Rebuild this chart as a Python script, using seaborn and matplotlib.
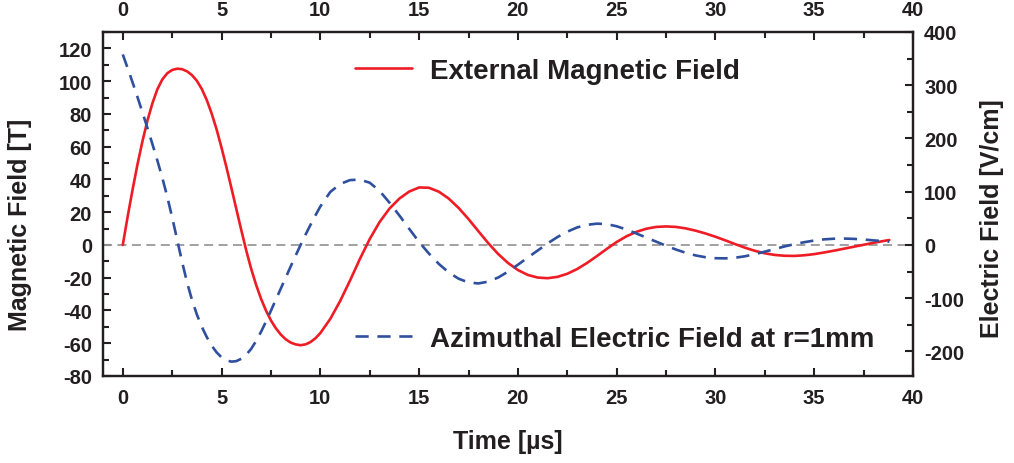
import numpy as np
import pandas as pd
import matplotlib
matplotlib.use("Agg")
import matplotlib.pyplot as plt
from matplotlib.ticker import MultipleLocator
import seaborn as sns

# ---- data ----
time_us = [0, 0.25, 0.5, 0.75, 1, 1.25, 1.5, 1.75, 2, 2.25, 2.5, 2.75, 3, 3.25, 3.5, 3.75,
           4, 4.25, 4.5, 4.75, 5, 5.25, 5.5, 5.75, 6, 6.25, 6.5, 6.75, 7, 7.25, 7.5, 7.75,
           8, 8.25, 8.5, 8.75, 9, 9.25, 9.5, 9.75, 10,
           10.5, 11, 11.5, 12, 12.5, 13, 13.5, 14, 14.5, 15, 15.5, 16, 16.5, 17, 17.5, 18,
           18.5, 19, 19.5, 20, 20.5, 21, 21.5, 22, 22.5, 23, 23.5, 24, 24.5, 25, 25.5, 26,
           26.5, 27, 27.5, 28, 28.5, 29, 29.5, 30, 30.5, 31, 31.5, 32, 32.5, 33, 33.5, 34,
           34.5, 35, 35.5, 36, 36.5, 37, 37.5, 38, 38.5, 38.8]

magnetic_T = [0, 17.5, 34, 49.5, 63.5, 76, 86.5, 95, 101, 104.8, 106.8, 107.6, 107.3, 106.0,
              103.7, 100.2, 95.2, 88.5, 80.2, 70.5, 59.3, 47.3, 34.7, 21.8, 9.0, -3.4, -14.6,
              -24.4, -32.9, -40.1, -46.1, -50.9, -54.7, -57.6, -59.6, -60.7, -61.2, -60.7,
              -59.3, -57.0, -53.8,
              -45.2, -34.3, -21.8, -8.6, 3.6, 14.0, 22.2, 28.3, 32.6, 35.1,
              34.9, 32.5, 28.3, 22.6, 15.8, 8.4, 1.1, -5.5, -11.0, -15.3,
              -18.3, -19.9, -20.3, -19.5, -17.6, -14.7, -11.0, -6.8, -2.4, 1.8,
              5.3, 8.0, 9.9, 11.0, 11.3, 11.0, 10.1, 8.7, 7.0, 5.0,
              2.8, 0.5, -1.7, -3.6, -5.1, -6.1, -6.6, -6.7, -6.3, -5.6,
              -4.6, -3.5, -2.3, -1.1, 0.1, 1.3, 2.4, 3.0]

electric_Vcm = [357.8, 331.7, 304.8, 277.1, 248.6, 219.4, 189.4, 158.6, 126.3, 90.9, 51.7,
                10.2, -31.4, -69.8, -102.9, -130.6, -153.7, -172.9, -189.1, -201.8, -211.1,
                -216.9, -219.2, -218.2, -213.8, -206.2, -195.1, -180.3, -163.1, -143.8, -123.4,
                -102.6, -81.8, -61.1, -40.3, -20.0, 0, 19.2, 37.7, 55.4, 72.3,
                99.4, 114.5, 121.8, 122.8, 116.9, 101.5, 79.4, 55.4, 30.2, 5.5,
                -16.3, -35.7, -51.7, -63.4, -70.5, -72.3, -68.9, -61.2, -50.2, -37.2,
                -23.7, -10.5, 2.8, 14.8, 24.9, 32.9, 37.8, 40.0, 39.1, 35.1,
                28.9, 21.5, 13.8, 6.2, -1.5, -8.6, -14.8, -19.7, -23.1, -24.9,
                -25.2, -24.0, -21.2, -17.2, -12.6, -7.7, -2.8, 1.5, 5.2, 8.3,
                10.5, 11.7, 12.0, 11.4, 10.2, 8.6, 7.1, 6.2]

x_ticks = [0, 5, 10, 15, 20, 25, 30, 35, 40]
left_ticks = [-80, -60, -40, -20, 0, 20, 40, 60, 80, 100, 120]
right_ticks = [-200, -100, 0, 100, 200, 300, 400]

df = pd.DataFrame({"t": time_us, "B": magnetic_T, "E": electric_Vcm})

# ---- style ----
sns.set_style("ticks")
plt.rcParams["font.family"] = ["Liberation Sans", "DejaVu Sans"]
plt.rcParams["font.weight"] = "bold"
plt.rcParams["axes.labelweight"] = "bold"
plt.rcParams["axes.unicode_minus"] = False

RED = "#ee1c25"
BLUE = "#2f4f9f"
INK = "#231f20"

fig = plt.figure(figsize=(10.14, 4.64), dpi=100)
ax = fig.add_axes([0.1016, 0.1875, 0.7988, 0.7414])
ax2 = ax.twinx()

ax.axhline(0, color="#9a9a9a", lw=1.3, ls=(0, (5, 3)), zorder=1)

sns.lineplot(data=df, x="t", y="B", ax=ax, color=RED, lw=1.9,
             label="External Magnetic Field", zorder=3)
sns.lineplot(data=df, x="t", y="E", ax=ax2, color=BLUE, lw=1.9,
             linestyle=(0, (5, 3.3)), label="Azimuthal Electric Field at r=1mm", zorder=3)

ax.set_xlim(-1, 40)
ax.set_ylim(-80, 130)
ax2.set_ylim(-80 * 400 / 130, 400)

ax.set_xticks(x_ticks)
ax.xaxis.set_minor_locator(MultipleLocator(2.5))
ax.set_yticks(left_ticks)
ax.yaxis.set_minor_locator(MultipleLocator(10))
ax2.set_yticks(right_ticks)
ax2.yaxis.set_minor_locator(MultipleLocator(50))

tick_font = 14.5
ax.tick_params(axis="x", which="both", direction="in", top=True, bottom=True,
               labeltop=True, labelbottom=True, labelsize=tick_font, pad=9, width=1.5, color=INK,
               labelcolor=INK)
ax.tick_params(axis="y", which="both", direction="in", left=True, right=False,
               labelsize=tick_font, pad=8, width=1.5, color=INK, labelcolor=INK)
ax2.tick_params(axis="y", which="both", direction="in", right=True, left=False,
                labelsize=tick_font, pad=8, width=1.5, color=INK, labelcolor=INK)
for a in (ax, ax2):
    a.tick_params(which="major", length=6)
    a.tick_params(which="minor", length=4)
    for lab in a.get_xticklabels() + a.get_yticklabels():
        lab.set_fontweight("bold")
    for s in a.spines.values():
        s.set_linewidth(1.6)
        s.set_color(INK)
        s.set_visible(True)

ax.set_xlabel("Time [µs]", fontsize=18, fontweight="bold", color=INK)
ax.set_ylabel("Magnetic Field [T]", fontsize=18, fontweight="bold", color=INK)
ax2.set_ylabel("Electric Field [V/cm]", fontsize=18, fontweight="bold", color=INK)
ax.xaxis.set_label_coords(0.5, -0.155)
ax.yaxis.set_label_coords(-0.0877, 0.443)
ax2.yaxis.set_label_coords(1.083, 0.459)

leg1 = ax.legend(loc="center left", bbox_to_anchor=(0.311, 0.887), frameon=False,
                 fontsize=20, handlelength=2.05, handletextpad=0.65,
                 borderpad=0, borderaxespad=0)
leg2 = ax2.legend(loc="center left", bbox_to_anchor=(0.311, 0.108), frameon=False,
                  fontsize=20, handlelength=2.05, handletextpad=0.65,
                  borderpad=0, borderaxespad=0)
for leg in (leg1, leg2):
    for txt in leg.get_texts():
        txt.set_fontweight("bold")
        txt.set_color(INK)

fig.savefig("out.png", dpi=100)
